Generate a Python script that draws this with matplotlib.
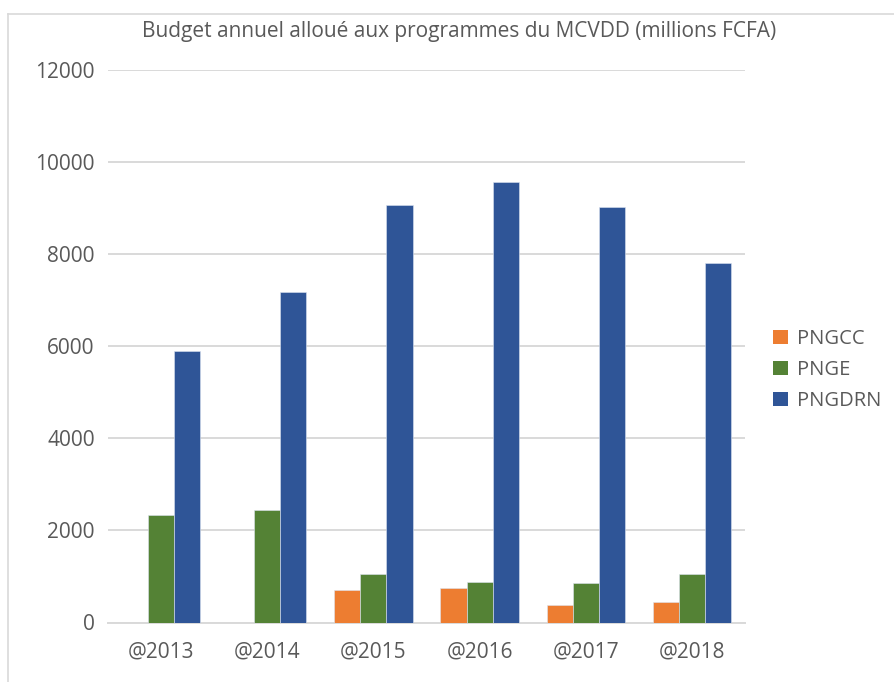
import numpy as np
import matplotlib
matplotlib.use("Agg")
import matplotlib.pyplot as plt
from matplotlib.patches import Patch
from matplotlib.lines import Line2D

# ── Data ──────────────────────────────────────────────────────────────────────
YEARS = ["@2013", "@2014", "@2015", "@2016", "@2017", "@2018"]
PNGCC = [0, 0, 700, 755, 370, 445]
PNGE = [2330, 2450, 1060, 880, 855, 1045]
PNGDRN = [5890, 7180, 9065, 9570, 9015, 7810]

SERIES = ["PNGCC", "PNGE", "PNGDRN"]
COLORS = ["#ED7D31", "#548235", "#2F5597"]
YTICKS = [0, 2000, 4000, 6000, 8000, 10000, 12000]

TXT = "#595959"
GRID = "#D9D9D9"

plt.rcParams["font.family"] = ["Open Sans", "DejaVu Sans"]

fig = plt.figure(figsize=(8.94, 6.82), dpi=100)
ax = fig.add_axes([108 / 894, 1 - 622.5 / 682, (745 - 108) / 894, (622.5 - 70) / 682])

x = np.arange(len(YEARS))
w = 0.246
for i, (vals, col) in enumerate(zip([PNGCC, PNGE, PNGDRN], COLORS)):
    ax.bar(x + (i - 1) * w, vals, width=w, color=col, edgecolor="#DCE3F0",
           linewidth=0.4, zorder=3)

ax.set_xlim(-0.5, len(YEARS) - 0.5)
ax.set_ylim(0, 12000)
ax.set_yticks(YTICKS)
ax.set_yticklabels([str(t) for t in YTICKS])
ax.set_xticks(x)
ax.set_xticklabels(YEARS)
ax.tick_params(axis="both", length=0, colors=TXT, labelsize=15)
ax.tick_params(axis="y", pad=9.5)
ax.tick_params(axis="x", pad=13.5)
ax.grid(axis="y", color=GRID, linewidth=1.4, zorder=0)
for s in ["top", "right", "left"]:
    ax.spines[s].set_visible(False)
ax.spines["bottom"].set_color(GRID)
ax.spines["bottom"].set_linewidth(1.4)

fig.text(459 / 894, 1 - 31 / 682,
         "Budget annuel alloué aux programmes du MCVDD (millions FCFA)",
         ha="center", va="center", fontsize=15, color=TXT)

handles = [Patch(facecolor=c, edgecolor="none") for c in COLORS]
fig.legend(handles, SERIES, loc="center left",
           bbox_to_anchor=(765 / 894, 1 - 370 / 682), frameon=False,
           fontsize=14.5, labelcolor=TXT, handlelength=0.75, handleheight=0.75,
           handletextpad=0.45, labelspacing=0.55, borderaxespad=0)

# chart-area border (only top and left visible in the crop)
fig.add_artist(Line2D([8 / 894, 1], [1 - 13.5 / 682] * 2, color="#D9D9D9",
                      linewidth=1.2, transform=fig.transFigure))
fig.add_artist(Line2D([8 / 894] * 2, [0, 1 - 13.5 / 682], color="#D9D9D9",
                      linewidth=1.2, transform=fig.transFigure))

fig.savefig("out.png", dpi=100)
